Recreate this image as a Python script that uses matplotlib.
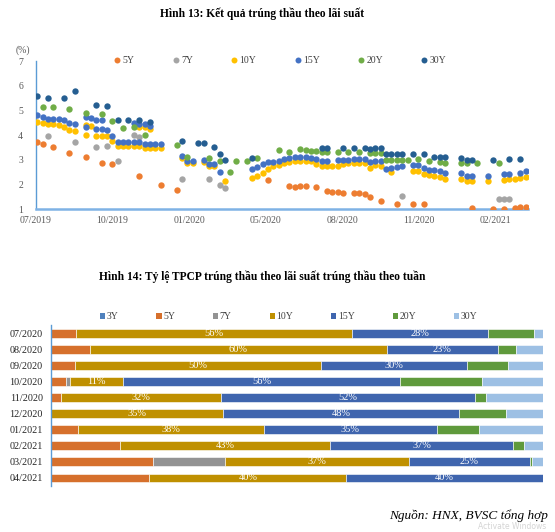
import numpy as np
import pandas as pd
import matplotlib
matplotlib.use("Agg")
import matplotlib.pyplot as plt
from matplotlib.lines import Line2D
from matplotlib.patches import Patch

plt.rcParams['font.family'] = ['Liberation Serif', 'DejaVu Serif']

# ---- Hinh 13: weekly auction results (week number since 10/07/2019, yield %) ----
first_auction = pd.Timestamp('2019-07-10')

w5 = [0, 1, 3, 6, 9, 12, 14, 19, 23, 26, 43, 47, 48, 49, 50, 52, 54, 55, 56, 57, 59, 60, 61, 62,
      64, 67, 70, 72, 81, 85, 87, 89, 90, 91]
r5 = [3.72, 3.62, 3.51, 3.28, 3.12, 2.86, 2.81, 2.35, 1.97, 1.77, 2.17, 1.95, 1.90, 1.92, 1.92,
      1.88, 1.72, 1.70, 1.69, 1.67, 1.66, 1.65, 1.61, 1.47, 1.32, 1.19, 1.19, 1.19, 1.04, 1.00,
      1.01, 1.04, 1.07, 1.10]

w7 = [2, 7, 11, 13, 15, 18, 19, 27, 32, 34, 35, 68, 86, 87, 88]
r7 = [3.96, 3.72, 3.51, 3.55, 2.97, 3.99, 3.92, 2.21, 2.21, 1.97, 1.87, 1.53, 1.42, 1.42, 1.42]

w10 = [0, 1, 2, 3, 4, 5, 6, 7, 9, 9, 10, 11, 12, 13, 14, 15, 16, 17, 18, 19, 19, 20, 21, 20, 21,
       22, 23, 27, 28, 29, 31, 32, 33, 35, 40, 41, 42, 43, 44, 45, 46, 47, 48, 49, 50, 51, 52, 53,
       54, 55, 56, 57, 58, 59, 60, 61, 62, 63, 64, 66, 70, 71, 72, 73, 74, 75, 76, 79, 80, 81, 84,
       87, 88, 89, 90, 91]
r10 = [4.54, 4.48, 4.44, 4.44, 4.41, 4.33, 4.19, 4.16, 4.40, 4.02, 4.38, 3.96, 3.96, 3.96, 3.75,
       3.54, 3.54, 3.54, 3.56, 3.55, 4.34, 4.31, 4.23, 3.47, 3.47, 3.47, 3.47, 3.08, 2.88, 2.88,
       2.90, 2.74, 2.74, 2.15, 2.26, 2.35, 2.47, 2.61, 2.74, 2.77, 2.87, 2.93, 2.97, 2.97, 2.97,
       2.94, 2.83, 2.74, 2.74, 2.75, 2.75, 2.82, 2.85, 2.85, 2.86, 2.86, 2.66, 2.77, 2.73, 2.50,
       2.54, 2.54, 2.44, 2.38, 2.34, 2.30, 2.24, 2.21, 2.12, 2.12, 2.13, 2.19, 2.21, 2.23, 2.27,
       2.31]

w15 = [0, 1, 2, 3, 4, 5, 6, 7, 9, 9, 10, 11, 11, 12, 12, 13, 14, 15, 16, 17, 18, 19, 18, 19, 20,
       21, 20, 21, 22, 23, 27, 28, 29, 31, 32, 33, 34, 40, 41, 42, 43, 44, 45, 46, 47, 48, 49, 50,
       51, 52, 53, 54, 56, 57, 58, 59, 60, 61, 62, 63, 64, 65, 66, 67, 68, 70, 71, 72, 73, 74, 75,
       76, 79, 80, 81, 84, 87, 88, 90, 91]
r15 = [4.81, 4.74, 4.66, 4.66, 4.66, 4.62, 4.50, 4.44, 4.72, 4.31, 4.70, 4.63, 4.23, 4.63, 4.24,
       4.20, 3.98, 3.73, 3.73, 3.73, 3.74, 3.73, 4.49, 4.47, 4.44, 4.36, 3.63, 3.63, 3.63, 3.63,
       3.17, 2.96, 2.96, 3.01, 2.82, 2.82, 2.49, 2.61, 2.71, 2.82, 2.92, 2.92, 2.94, 3.04, 3.08,
       3.12, 3.12, 3.12, 3.09, 3.04, 2.96, 2.97, 2.98, 3.00, 3.00, 3.02, 3.02, 3.02, 2.92, 2.97,
       2.94, 2.63, 2.67, 2.71, 2.74, 2.77, 2.77, 2.67, 2.59, 2.58, 2.54, 2.47, 2.46, 2.35, 2.35,
       2.36, 2.42, 2.44, 2.47, 2.53]

w20 = [1, 3, 6, 9, 12, 14, 16, 18, 20, 26, 28, 32, 34, 36, 37, 39, 41, 45, 47, 49, 50, 51, 52, 53,
       54, 56, 58, 60, 62, 63, 64, 65, 66, 67, 68, 69, 71, 73, 75, 76, 79, 80, 82, 86]
r20 = [5.14, 5.14, 5.04, 4.88, 4.87, 4.56, 4.30, 4.31, 4.00, 3.60, 3.12, 3.07, 2.96, 2.51, 2.97,
       2.97, 3.07, 3.41, 3.33, 3.42, 3.41, 3.36, 3.34, 3.30, 3.30, 3.32, 3.32, 3.33, 3.26, 3.26,
       3.26, 2.99, 2.99, 2.99, 2.99, 2.99, 3.02, 2.96, 2.90, 2.86, 2.86, 2.86, 2.86, 2.86]

w30 = [0, 2, 5, 7, 11, 13, 15, 17, 19, 21, 27, 30, 31, 33, 34, 35, 40, 53, 54, 57, 59, 61, 62, 63,
       64, 65, 66, 67, 68, 70, 72, 74, 75, 76, 79, 80, 81, 85, 88, 90]
r30 = [5.59, 5.51, 5.51, 5.79, 5.22, 5.20, 4.63, 4.63, 4.62, 4.53, 3.78, 3.70, 3.68, 3.52, 3.23,
       2.98, 3.08, 3.48, 3.48, 3.48, 3.48, 3.48, 3.42, 3.46, 3.46, 3.23, 3.23, 3.23, 3.23, 3.23,
       3.23, 3.13, 3.12, 3.12, 3.08, 2.98, 2.98, 2.98, 3.02, 3.02]

scatter_series = [
    ('5Y', w5, r5, '#ED7D31'),
    ('7Y', w7, r7, '#A5A5A5'),
    ('10Y', w10, r10, '#FFC000'),
    ('15Y', w15, r15, '#4472C4'),
    ('20Y', w20, r20, '#70AD47'),
    ('30Y', w30, r30, '#255E91'),
]

# ---- Hinh 14: share of winning bonds by tenor (%) ----
months = ['07/2020', '08/2020', '09/2020', '10/2020', '11/2020', '12/2020',
          '01/2021', '02/2021', '03/2021', '04/2021']
share_3y = [0, 0, 0, 0, 0, 0, 0, 0, 0, 0]
share_5y = [5.1, 7.9, 4.9, 3.0, 2.1, 0, 5.5, 14.1, 20.7, 20.0]
share_7y = [0, 0, 0, 0.9, 0, 0, 0, 0, 14.7, 0]
share_10y = [56.0, 60.3, 50.0, 10.8, 32.4, 34.9, 37.7, 42.7, 37.3, 40.0]
share_15y = [27.8, 22.6, 29.6, 56.2, 51.6, 48.0, 35.2, 37.1, 24.6, 40.0]
share_20y = [9.3, 3.8, 8.3, 16.7, 2.4, 9.6, 8.5, 2.2, 0.5, 0]
share_30y = [1.8, 5.4, 7.2, 12.4, 11.5, 7.5, 13.1, 3.9, 2.2, 0]

bar_series = [
    ('3Y', share_3y, '#4F81BD', False),
    ('5Y', share_5y, '#D6702C', False),
    ('7Y', share_7y, '#939393', False),
    ('10Y', share_10y, '#BF9000', True),
    ('15Y', share_15y, '#3F65AE', True),
    ('20Y', share_20y, '#5F9A3C', False),
    ('30Y', share_30y, '#9DC0E4', False),
]

fig = plt.figure(figsize=(5.55, 5.32), dpi=100)

fig.text(0.472, 0.974, 'Hình 13: Kết quả trúng thầu theo lãi suất',
         ha='center', va='center', fontsize=8.3, fontweight='bold')

ax1 = fig.add_axes([0.0643, 0.607, 0.8868, 0.278])
handles = []
for name, w, r, col in scatter_series:
    d = first_auction + pd.to_timedelta(np.array(w) * 7, unit='D')
    ax1.scatter(d, r, s=21, color=col, linewidths=0, zorder=3)
    handles.append(Line2D([], [], marker='o', linestyle='', markersize=4.3,
                          markerfacecolor=col, markeredgewidth=0, label=name))

axis_start = pd.Timestamp('2019-07-08')
ticks = [axis_start + pd.Timedelta(days=100 * k) for k in range(7)]
ax1.set_xlim(axis_start, axis_start + pd.Timedelta(days=642))
ax1.set_xticks(ticks)
ax1.set_xticklabels([t.strftime('%m/%Y') for t in ticks])
ax1.set_ylim(1, 7)
ax1.set_yticks(range(1, 8))
ax1.tick_params(length=0, labelsize=7, colors='#595959')
ax1.tick_params(axis='x', pad=5)
ax1.tick_params(axis='y', pad=9)
for s in ['top', 'right']:
    ax1.spines[s].set_visible(False)
ax1.spines['left'].set_color('#5B9BD5')
ax1.spines['left'].set_linewidth(1.0)
ax1.spines['bottom'].set_color('#7FB2E5')
ax1.spines['bottom'].set_linewidth(1.8)
fig.text(0.041, 0.906, '(%)', ha='center', va='center', fontsize=7, color='#595959')
fig.legend(handles=handles, loc='center', bbox_to_anchor=(0.504, 0.886), ncol=6,
           frameon=False, fontsize=7, handlelength=0.8, handletextpad=0.15,
           columnspacing=3.85, labelcolor='#404040')

fig.text(0.472, 0.479, 'Hình 14: Tỷ lệ TPCP trúng thầu theo lãi suất trúng thầu theo tuần',
         ha='center', va='center', fontsize=8.3, fontweight='bold')

ax2 = fig.add_axes([0.0919, 0.0865, 0.8865, 0.3025])
y = np.arange(len(months))
left = np.zeros(len(months))
bhandles = []
for name, vals, col, show in bar_series:
    vals = np.array(vals, dtype=float)
    ax2.barh(y, vals, left=left, height=0.55, color=col, edgecolor='white', linewidth=0.4)
    if show:
        for yi, l, v in zip(y, left, vals):
            if v > 0:
                ax2.text(l + v / 2, yi, f'{v:.0f}%', ha='center', va='center',
                         fontsize=7.5, color='white')
    left = left + vals
    bhandles.append(Patch(facecolor=col, label=name))

ax2.set_xlim(0, 100)
ax2.set_ylim(len(months) - 0.5, -0.5)
ax2.set_yticks(y)
ax2.set_yticklabels(months)
ax2.set_xticks([])
ax2.tick_params(length=0, labelsize=7.3, colors='#262626', pad=6)
for s in ['top', 'right', 'bottom']:
    ax2.spines[s].set_visible(False)
ax2.spines['left'].set_color('#5B9BD5')
ax2.spines['left'].set_linewidth(1.0)
fig.legend(handles=bhandles, loc='center', bbox_to_anchor=(0.52, 0.405), ncol=7,
           frameon=False, fontsize=7, handlelength=0.55, handleheight=0.55,
           handletextpad=0.15, columnspacing=3.9, labelcolor='#404040')

fig.text(0.987, 0.030, 'Nguồn: HNX, BVSC tổng hợp', ha='right', va='center',
         fontsize=9.5, style='italic')
fig.text(0.985, 0.001, 'Activate Windows', ha='right', va='bottom', fontsize=5.5,
         color='#d4d4d4', family='DejaVu Sans')

fig.savefig('out.png', dpi=100)
